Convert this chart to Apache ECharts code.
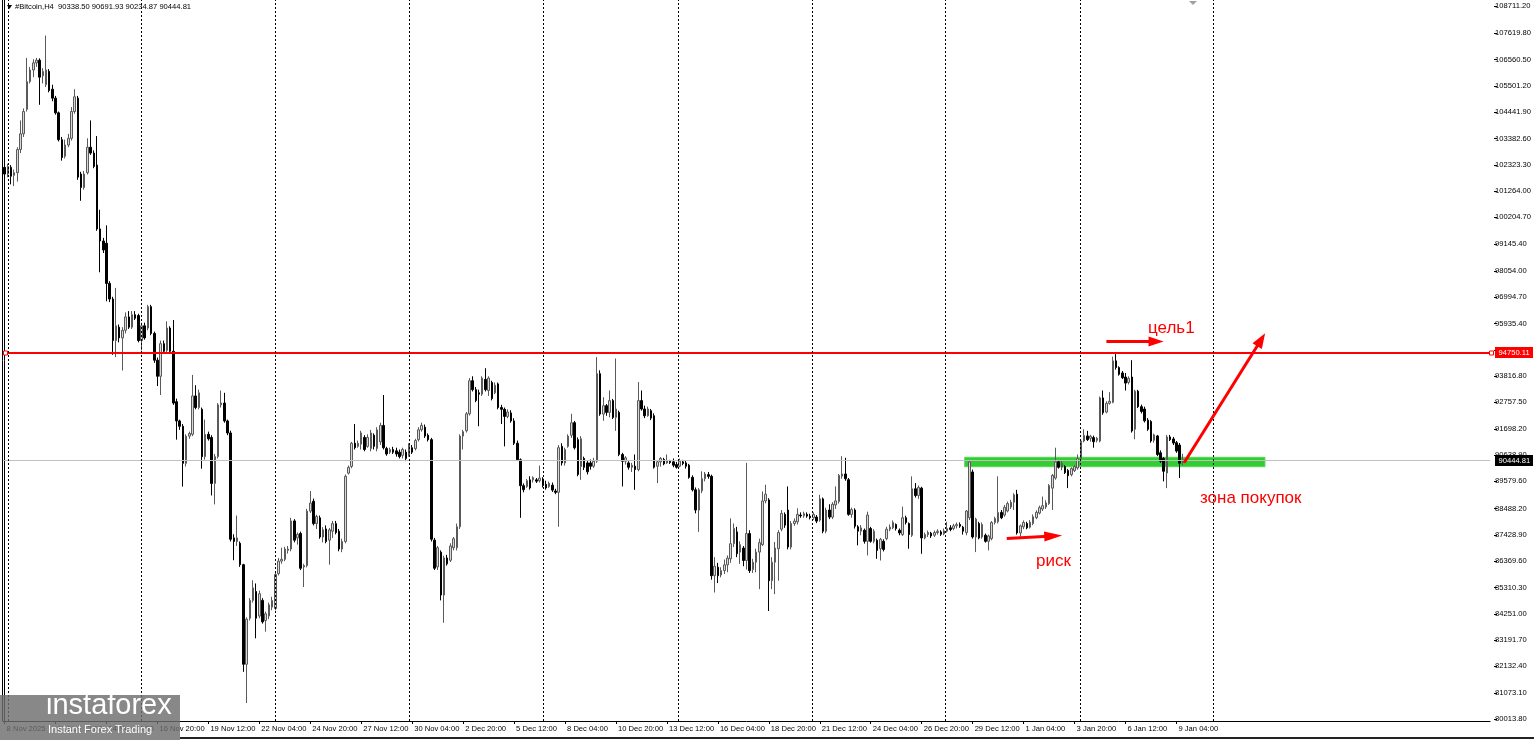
<!DOCTYPE html>
<html><head><meta charset="utf-8">
<script src="https://cdn.jsdelivr.net/npm/echarts@6/dist/echarts.min.js"></script>
<style>html,body{margin:0;padding:0;background:#fff;}#c{width:1534px;height:740px;}</style>
</head><body><div id="c"></div>
<script>
// ---- axis labels ----
const tickLabels = ['8 Nov 2025','11 Nov 12:00','14 Nov 04:00','16 Nov 20:00','19 Nov 12:00','22 Nov 04:00','24 Nov 20:00','27 Nov 12:00','30 Nov 04:00','2 Dec 20:00','5 Dec 12:00','8 Dec 04:00','10 Dec 20:00','13 Dec 12:00','16 Dec 04:00','18 Dec 20:00','21 Dec 12:00','24 Dec 04:00','26 Dec 20:00','29 Dec 12:00','1 Jan 04:00','3 Jan 20:00','6 Jan 12:00','9 Jan 04:00'];
const yTickValues = [80013.80,81073.10,82132.40,83191.70,84251.00,85310.30,86369.60,87428.90,88488.20,89579.60,90638.90,91698.20,92757.50,93816.80,94881.10,95935.40,96994.70,98054.00,99145.40,100204.70,101264.00,102323.30,103382.60,104441.90,105501.20,106560.50,107619.80,108711.20];

// ---- H4 candles (Bitcoin) ----
const opens = [
102219,101949,102219,101895,102003,102938,103567,104555,105669,106136,
106424,106532,105903,105543,106082,105364,105004,104411,103333,102668,
103117,103387,104465,105004,101949,101410,102003,103028,102794,102309,
99739,99254,99164,97547,96918,95247,95786,95354,95660,96199,
95786,96289,96253,95247,95840,95750,96612,95534,94456,93809,
95121,94852,95750,94815,92785,92012,91796,90305,91401,91473,
93018,92551,92479,90574,91473,91347,89496,90574,92659,92731,
92012,91527,87304,87160,87088,86226,82218,84070,84788,85148,
84159,84788,83979,84159,84518,84465,85867,86369,86441,86801,
86855,87987,87304,87484,86136,86190,88382,88777,87879,88112,
87340,87664,87214,87573,87879,87573,86855,87160,89909,90179,
91113,90988,91078,91347,90988,90898,91437,90898,91167,91832,
90898,90754,90862,90808,90754,90628,90754,90628,90934,90898,
91258,91653,91760,91437,91258,87214,86136,86729,85004,86495,
86405,86908,86908,87753,91401,91617,92299,93629,93270,93144,
93090,93683,93234,93557,93144,93503,92551,92479,92192,92335,
92012,91113,90449,89406,89370,89640,89640,89640,89604,89676,
89461,89370,89425,89191,89137,90988,90323,90988,91437,91940,
91258,90179,90502,90323,90323,90188,90391,93914,92288,92627,
92356,92830,92153,92356,90662,90391,90323,90147,90188,90052,
92830,92491,92220,92424,92220,90188,90364,90459,90323,90391,
90364,90256,90188,90364,90323,90228,89741,89239,88426,89199,
89686,89849,89781,85784,86123,85811,85987,86218,86462,87071,
87546,86733,86895,86394,87478,86028,86326,86733,87031,88792,
88833,85581,86326,86868,87654,88250,88426,86936,87884,87952,
88223,88196,88250,88182,88115,88142,88020,88873,87573,88426,
88142,88630,88765,89795,89876,89646,88250,88426,87749,87573,
87613,87166,87681,87166,87207,86868,87166,87275,87654,87708,
87844,87613,87437,88115,87884,87410,89280,89009,89307,87302,
87437,87491,87410,87518,87546,87464,87573,87708,87681,87789,
87844,87735,87518,88115,89957,87342,87884,87342,87410,87166,
87275,87925,87952,88331,88223,88386,88548,88738,89063,87505,
87749,87884,87735,87884,88115,88304,88467,88548,88684,89307,
89714,90364,90147,90174,90012,89849,90012,90120,90499,91204,
91407,91312,91340,91231,91204,92938,92369,92722,92762,94429,
94158,93941,93779,93562,93779,91678,93209,92586,92491,92044,
91990,91231,91407,90730,90499,89917,91367,91285,91136,91041,
90338.50];
const closes = [
101949,102255,101860,102003,102938,103567,104465,105669,106136,106424,
106532,105849,106082,106136,105310,105004,104411,103333,102614,103117,
103387,104465,105058,101824,101410,101949,103028,102794,102255,99739,
99254,98894,97547,96918,95247,95840,95354,95660,96199,95786,
96289,96145,95247,95840,95354,96612,95534,94456,93809,95121,
94815,95750,94815,92731,92012,91796,90305,91401,91509,93018,
92551,93144,90574,91473,91293,89496,90574,92659,92731,92012,
91527,87250,87160,87304,86226,82218,84033,84788,85291,84070,
85058,83925,84249,84608,84788,85830,86369,86441,86855,86855,
87987,87214,87448,86082,86190,88382,88705,87879,88166,87340,
87627,87160,87627,87879,87519,86855,87160,89784,90143,91113,
90934,91113,91527,90862,91347,91527,90988,91653,91832,90934,
90682,90862,90754,90682,90574,90862,90502,91042,90754,91221,
91653,91832,91401,91258,87250,86082,86908,85004,86495,86262,
86980,87268,87753,91401,91581,92299,93629,93270,92839,93090,
93737,93270,93737,92910,93450,92551,92479,92192,92371,92012,
91113,90449,89406,89245,89604,89316,89730,89586,89712,89406,
89316,89496,89227,89137,90934,90323,90862,91401,91940,90934,
89856,91293,90143,89963,90188,90391,93914,92288,92627,92356,
92830,92153,92491,90662,90391,90527,90147,90228,90052,92830,
92491,92220,92491,92125,90147,90364,90499,90283,90418,90337,
90228,90147,90391,90296,90188,89741,89239,88426,89239,89686,
89876,89781,85784,86163,85784,85987,86218,86489,87071,87681,
86665,87031,86394,87478,85987,86326,86733,87112,88792,89063,
85581,86326,86895,87518,88291,87817,86936,87884,87979,88250,
88196,88277,88182,88115,88250,87979,88873,87573,88426,88142,
88657,88792,89822,89876,89686,88250,88440,87776,87573,87708,
87166,88223,87166,87573,86800,87247,86841,87654,87735,87925,
87681,87505,88115,87925,87437,89280,89009,89334,87302,87437,
87518,87383,87518,87573,87451,87586,87681,87640,87789,87844,
87776,87573,88386,90364,87342,88060,87302,87844,87166,87383,
87925,88088,88331,88115,88535,88684,88738,89036,87505,87789,
87925,87708,87938,88155,88331,88521,88602,88711,89415,89822,
90364,90147,90310,89930,89808,90093,90174,90499,91204,91434,
91258,91394,91177,91312,92938,92342,92722,92803,94429,94158,
93887,93751,93535,93724,91611,93209,92586,92396,92017,91678,
91204,91448,90662,90391,89985,91367,91258,91123,90798,90310,
90444.81];
const lows = [
101500,101824,101536,101464,101644,102794,103441,104465,105597,105849,
106262,104735,105597,105453,105238,104879,104339,103261,102488,102578,
103028,103297,104375,101716,100871,101320,101931,102722,102183,99667,
97996,98769,96828,96792,94672,94582,95175,94043,95534,95714,
95714,96073,95175,94852,95283,95660,95462,94348,93414,93055,
94707,94761,94707,92659,91258,91653,89370,90179,91293,91401,
92479,92479,90089,90449,91221,89011,88652,90502,92551,91940,
91437,87160,86405,86980,86136,81913,80655,83979,84698,83261,
84070,83854,83530,84033,84393,84393,85794,86262,86369,86675,
86765,87124,87034,86010,85327,86118,88310,87807,87664,87268,
87124,87088,86226,87304,87448,86765,86729,87088,89856,90107,
90862,90934,90862,90790,90934,90790,90862,90790,91042,90862,
90610,90682,90682,90574,90502,90502,90395,90574,90682,90826,
91185,91581,91329,91185,87160,86010,86010,84788,83889,86190,
86333,86801,86801,87664,90862,91545,92228,93198,92767,91796,
93018,93198,93018,92839,93090,92479,91886,90988,92120,91940,
91042,90395,88112,89137,89316,89245,89532,89514,89532,89334,
89245,89316,89155,89065,87753,90215,90215,90934,91329,90862,
89784,89640,90035,89856,90052,90120,90323,92220,92017,92220,
92153,92085,91611,90594,89375,90256,90052,89957,89239,89985,
92424,92125,92180,92044,90093,89510,90174,90228,90283,90283,
90147,90093,90147,90228,90093,89686,89172,88291,87546,89104,
89578,89686,85621,85107,85486,85716,85852,85920,86299,86936,
86529,86258,86163,86028,85892,85892,85920,85242,86976,88697,
84361,85242,85039,85581,87573,87708,86841,86841,87789,87844,
88115,88115,88115,88047,88033,87898,87952,87491,87491,88060,
88060,88467,88684,89686,89605,88196,88115,87681,87004,87410,
87071,86597,87112,87085,86462,86394,86760,87207,87573,87654,
87600,87410,87383,87844,86868,87342,88928,88873,86665,87247,
87342,87302,87342,87437,87383,87410,87518,87573,87613,87681,
87708,87437,87410,88020,87275,86733,87247,87275,87112,86800,
87207,87844,87884,88060,88155,88331,88467,88426,87437,87342,
87654,87654,87681,87817,88060,88250,88386,88467,88630,88426,
89646,90093,90025,89876,89307,89781,89957,90052,90418,91150,
91204,91177,90933,91150,91150,92261,92315,92667,92722,94077,
93833,93697,93237,93480,91543,91272,92532,92315,91949,91611,
91136,91136,90594,90323,89578,89307,91204,91041,90730,89714,
90234.87];
const highs = [
102434,102363,102309,102129,103028,104106,104591,106622,106262,106568,
106622,106604,106208,107520,106172,105543,105094,104465,103441,103333,
103567,104645,105364,105094,102039,102075,103387,104106,102902,103477,
100512,99380,99883,97637,97008,97367,95893,95786,96379,96433,
96433,96433,96325,95965,95965,96684,96684,95606,94564,95247,
95247,96019,95822,96073,92910,92066,91886,91473,91581,93863,
93450,93270,92551,92066,91581,91437,90682,92731,93234,93144,
92066,91617,87448,88202,87160,86262,84105,84878,85597,85471,
85183,84878,84339,84698,84932,85902,86495,86908,86945,86980,
88112,88059,87519,87555,86262,88472,89191,88885,88238,88202,
87735,87807,87699,87987,87987,87664,87268,89856,90215,91167,
91886,91221,91617,91437,91473,91653,91509,91760,91940,93055,
90970,90934,90970,90934,90862,90934,90862,91113,91042,91293,
91760,91940,91868,91509,91329,87304,86980,86801,86585,86621,
87088,87340,87879,91473,91653,92371,93737,93809,93378,93270,
93809,94133,93809,93629,93557,93557,92659,92551,92479,92443,
92120,91221,90502,89496,89676,89784,89784,89712,90215,89748,
89604,89568,89532,89281,91042,91113,90934,91473,92299,92012,
91347,91401,90574,90395,90459,90527,94580,94049,92966,92695,
93237,92898,94524,92424,90730,90594,90391,90323,90662,93575,
93237,92627,92586,92491,92315,90418,90554,90527,90662,90445,
90499,90364,90499,90445,90418,90283,89822,89334,89307,89985,
89957,89957,89849,86529,86299,86123,86434,86597,88088,87884,
87749,87166,86976,90323,87613,86462,86868,87275,89172,89443,
88901,86529,87139,87613,88426,88331,89375,87979,88088,88494,
88331,88359,88331,88277,88331,88223,89036,88928,88521,88657,
88738,89375,89876,90594,90527,89714,88521,88494,87817,87817,
87681,88359,87749,87654,87275,87302,87247,87749,87844,88006,
87884,87681,88562,88196,87925,89781,89510,89415,89361,87518,
87600,87546,87600,87654,87613,87681,87952,87817,87871,87925,
87925,87789,88426,90418,90052,88115,87952,87925,87478,87437,
87979,88155,89781,88426,88630,88765,88833,89104,89239,87844,
88006,87952,88020,88250,88413,88602,88968,88819,89470,89876,
90933,90418,90391,90228,90079,90147,90228,90662,91258,91678,
91611,91448,91421,91367,92993,93237,92803,93169,94600,94700,
94212,94022,93941,93806,94456,93264,93264,92667,92586,92125,
92044,91502,91448,90825,90554,91448,91448,91367,91204,91123,
90691.93];

const targetLevel = 94750.11;   // red horizontal line
const lastPrice = 90444.81;     // current bid line
const buyZone = [90169, 90548]; // green zone price band

// ---- layout constants ----
const SLOTS = 467;
const LAST_LABEL_BAR = 368;
const categories = Array.from({length: SLOTS}, (_, i) => String(i));
const candleData = opens.map((o, i) => [o, closes[i], lows[i], highs[i]]);
const separators = [1.07, 43.04, 85.0, 127.0, 169.3, 211.5, 253.5, 295.5, 337.8, 379.7];

const FONT = '"Liberation Sans", Arial, sans-serif';
const chart = echarts.init(document.getElementById('c'), null, {renderer: 'canvas'});

const gearTeeth = [];
for (let k = 0; k < 8; k++) {
  gearTeeth.push({type: 'rect', shape: {x: -3.5, y: -18.5, width: 7, height: 8}, rotation: k * Math.PI / 4,
    style: {fill: '#ffffff'}});
}

const baseGraphics = [
  {type: 'line', z: 50, shape: {x1: 2.5, y1: 0, x2: 2.5, y2: 721}, style: {stroke: '#000', lineWidth: 1}},
  {type: 'line', z: 50, shape: {x1: 180, y1: 738, x2: 1534, y2: 738}, style: {stroke: '#222', lineWidth: 2}},
  {type: 'polygon', z: 60, shape: {points: [[7, 5], [12, 5], [9.5, 9]]}, style: {fill: '#000'}},
  {type: 'text', z: 60, style: {x: 15, y: 7, text: '#Bitcoin,H4  90338.50 90691.93 90234.87 90444.81',
    fill: '#000', font: '7.6px ' + FONT, verticalAlign: 'middle'}},
  {type: 'polygon', z: 60, shape: {points: [[1189, 1], [1197, 1], [1193, 5]]}, style: {fill: '#a0a0a0'}},
  {type: 'rect', z: 60, shape: {x: 3.5, y: 351, width: 4, height: 4}, style: {fill: '#fff', stroke: '#ff0000', lineWidth: 1}},
  {type: 'rect', z: 60, shape: {x: 1489.5, y: 351, width: 4, height: 4}, style: {fill: '#fff', stroke: '#ff0000', lineWidth: 1}},
  {type: 'rect', z: 60, shape: {x: 1495, y: 347, width: 38, height: 11}, style: {fill: '#ff0000'}},
  {type: 'text', z: 61, style: {x: 1498.5, y: 352.5, text: '94750.11', fill: '#fff', font: '7.6px ' + FONT, verticalAlign: 'middle'}},
  {type: 'rect', z: 60, shape: {x: 1495, y: 455, width: 38, height: 11}, style: {fill: '#000'}},
  {type: 'text', z: 61, style: {x: 1498.5, y: 460.5, text: '90444.81', fill: '#fff', font: '7.6px ' + FONT, verticalAlign: 'middle'}},
  {type: 'text', z: 61, style: {x: 1148, y: 320, text: 'цель1', fill: '#ff0000', font: '17px ' + FONT, verticalAlign: 'top'}},
  {type: 'text', z: 61, style: {x: 1036, y: 553, text: 'риск', fill: '#ff0000', font: '17px ' + FONT, verticalAlign: 'top'}},
  {type: 'text', z: 61, style: {x: 1200, y: 490, text: 'зона покупок', fill: '#ff0000', font: '17px ' + FONT, verticalAlign: 'top'}},
  {type: 'rect', z: 70, shape: {x: 0, y: 695, width: 180, height: 45}, style: {fill: 'rgba(110,110,110,0.82)'}},
  {type: 'group', z: 71, x: 24, y: 716, children: gearTeeth.concat([
    {type: 'circle', shape: {cx: 0, cy: 0, r: 12}, style: {fill: 'none', stroke: '#fff', lineWidth: 6}},
    {type: 'circle', shape: {cx: 0, cy: -3, r: 2.5}, style: {fill: '#fff'}},
    {type: 'rect', shape: {x: -2, y: 1, width: 4, height: 9}, style: {fill: '#fff'}}
  ])},
  {type: 'text', z: 72, style: {x: 46, y: 720, text: 'instaforex', fill: '#fff', font: '29px ' + FONT, verticalAlign: 'bottom'}},
  {type: 'text', z: 72, style: {x: 48, y: 730, text: 'Instant Forex Trading', fill: '#fff', font: '11px ' + FONT, verticalAlign: 'middle'}}
];

const option = {
  animation: false,
  backgroundColor: '#ffffff',
  grid: {left: 3, right: 40, top: 0, bottom: 19, containLabel: false},
  xAxis: [{
    type: 'category', data: categories, boundaryGap: true,
    axisLine: {show: true, lineStyle: {color: '#000', width: 1}},
    axisTick: {show: true, alignWithLabel: true, length: 3, lineStyle: {color: '#000'},
      interval: (idx) => idx % 16 === 0 && idx <= LAST_LABEL_BAR},
    axisLabel: {show: true, align: 'left', margin: 4, color: '#000', fontSize: 7.6, fontFamily: FONT,
      padding: [0, 0, 0, 2],
      interval: (idx) => idx % 16 === 0 && idx <= LAST_LABEL_BAR,
      formatter: (v, idx) => tickLabels[Math.round(idx / 16)] || ''},
    splitLine: {show: false}
  }, {
    type: 'value', min: -0.5, max: SLOTS - 0.5, show: false,
    axisTick: {show: false}, axisLine: {show: false}, axisLabel: {show: false}, splitLine: {show: false}
  }],
  yAxis: [{
    type: 'value', position: 'right', min: 79934, max: 108954,
    axisLine: {show: true, lineStyle: {color: '#000', width: 1}},
    axisTick: {show: false},
    axisLabel: {show: true, margin: 5, color: '#000', fontSize: 7.6, fontFamily: FONT, align: 'left',
      customValues: yTickValues, formatter: (v) => v.toFixed(2)},
    splitLine: {show: false}, minorTick: {show: false}, minorSplitLine: {show: false}
  }],
  series: [
    {
      name: 'zones', type: 'line', xAxisIndex: 1, yAxisIndex: 0, data: [], z: 1, silent: true,
      markArea: {silent: true, itemStyle: {color: '#32cd32', borderColor: '#5ad65a', borderWidth: 1},
        data: [[{coord: [301.5, buyZone[0]]}, {coord: [395.8, buyZone[1]]}]]},
      markLine: {silent: true, symbol: 'none', label: {show: false},
        lineStyle: {color: '#000', width: 1, type: [2, 2]},
        data: separators.map(s => ({xAxis: s}))}
    },
    {
      name: 'Bitcoin,H4', type: 'candlestick', xAxisIndex: 0, yAxisIndex: 0, z: 3,
      data: candleData, barWidth: 2,
      itemStyle: {color: '#d8d8d8', color0: '#000000', borderColor: '#5a5a5a', borderColor0: '#000000', borderWidth: 1},
      markLine: {silent: true, symbol: 'none', label: {show: false}, z: 4,
        data: [
          {yAxis: lastPrice, lineStyle: {color: '#c0c0c0', width: 1, type: 'solid'}},
          {yAxis: targetLevel, lineStyle: {color: '#ff0000', width: 2, type: 'solid'}}
        ]}
    },
    {
      name: 'arrows', type: 'line', xAxisIndex: 1, yAxisIndex: 0, data: [], z: 5, silent: true,
      markLine: {silent: true, label: {show: false}, symbol: ['none', 'triangle'],
        lineStyle: {color: '#ff0000', width: 3, type: 'solid'},
        itemStyle: {color: '#ff0000'},
        data: [
          [{coord: [346.0, 95209]}, {coord: [361.6, 95209], symbolSize: [10, 15]}],
          [{coord: [314.7, 87279]}, {coord: [329.3, 87380], symbolSize: [10, 18]}],
          [{coord: [370.4, 90330]}, {coord: [394.6, 95281], symbolSize: [11, 15]}]
        ]}
    }
  ],
  graphic: baseGraphics
};
chart.setOption(option);

// price-axis tick marks placed through the axis scale
const tickMarks = yTickValues.map(v => {
  const y = Math.round(chart.convertToPixel({yAxisIndex: 0}, v)) + 0.5;
  return {type: 'line', z: 55, shape: {x1: 1494, y1: y, x2: 1497, y2: y}, style: {stroke: '#000', lineWidth: 1}};
});
chart.setOption({graphic: baseGraphics.concat(tickMarks)});
</script>
</body></html>
